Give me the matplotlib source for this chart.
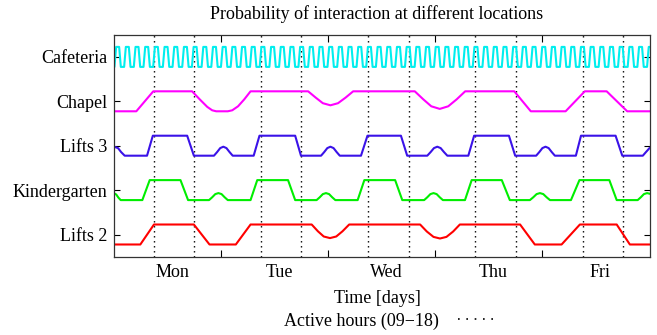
import numpy as np
import matplotlib.pyplot as plt
from matplotlib.lines import Line2D

plt.rcParams['font.family'] = ['Liberation Serif', 'DejaVu Serif']

# rows from bottom to top
locations = ['Lifts 2', 'Kindergarten', 'Lifts 3', 'Chapel', 'Cafeteria']
colors = ['#ff0000', '#00ee00', '#3a12e8', '#ff00ff', '#00eeee']
days = ['Mon', 'Tue', 'Wed', 'Thu', 'Fri']
active_hours = [9, 18]

# hours since Monday 00:00, probability scaled 0..1
lifts2_h = [0, 5.9, 8.96, 17.9, 21.4, 27.3, 30.6,
            44.3, 45.7, 47.0, 48.4, 49.8, 51.2, 52.7,
            68.6, 70.1, 71.6, 73.05, 74.5, 76.0, 77.5,
            91.0, 94.3, 100.3, 104.4, 112.65, 115.6, 120]
lifts2_p = [0, 0, 1, 1, 0, 0, 1,
            1, 0.66, 0.4, 0.32, 0.4, 0.66, 1,
            1, 0.65, 0.38, 0.3, 0.38, 0.65, 1,
            1, 0, 0, 1, 1, 0, 0]

kinder_h = [0, 0.5, 1.0, 1.5, 6.35, 8.0, 14.9, 16.6,
            21.3, 22.0, 22.7, 23.4, 24.1, 24.8, 25.5, 30.6, 32.1, 39.0, 40.6,
            45.4, 46.1, 46.8, 47.5, 48.2, 48.9, 49.6, 54.6, 56.1, 63.0, 64.6,
            69.5, 70.2, 70.9, 71.6, 72.3, 73.0, 73.7, 78.65, 80.15, 86.9, 88.7,
            93.2, 93.95, 94.7, 95.45, 96.2, 96.95, 97.7, 102.4, 104.3, 111.0, 112.65,
            117.35, 118.05, 118.75, 119.45, 120]
kinder_p = [0.34, 0.28, 0.12, 0, 0, 1, 1, 0,
            0, 0.14, 0.3, 0.35, 0.3, 0.14, 0, 0, 1, 1, 0,
            0, 0.14, 0.3, 0.35, 0.3, 0.14, 0, 0, 1, 1, 0,
            0, 0.14, 0.3, 0.35, 0.3, 0.14, 0, 0, 1, 1, 0,
            0, 0.14, 0.3, 0.35, 0.3, 0.14, 0, 0, 1, 1, 0,
            0, 0.14, 0.3, 0.35, 0.32]

lifts3_h = [0, 0.9, 1.6, 2.4, 7.4, 8.7, 16.4, 17.9,
            22.4, 23.1, 23.8, 24.5, 25.2, 25.9, 26.6, 31.3, 32.6, 40.6, 41.9,
            46.4, 47.1, 47.8, 48.5, 49.2, 49.9, 50.6, 55.35, 56.8, 64.3, 65.7,
            70.2, 70.95, 71.7, 72.45, 73.2, 73.95, 74.7, 79.4, 80.7, 88.5, 89.9,
            94.6, 95.3, 96.0, 96.7, 97.4, 98.1, 98.8, 103.5, 104.65, 112.4, 113.9,
            118.5, 119.2, 120]
lifts3_p = [0.45, 0.38, 0.18, 0, 0, 1, 1, 0,
            0, 0.18, 0.38, 0.45, 0.38, 0.18, 0, 0, 1, 1, 0,
            0, 0.18, 0.38, 0.45, 0.38, 0.18, 0, 0, 1, 1, 0,
            0, 0.18, 0.38, 0.45, 0.38, 0.18, 0, 0, 1, 1, 0,
            0, 0.18, 0.38, 0.45, 0.38, 0.18, 0, 0, 1, 1, 0,
            0, 0.18, 0.38]

chapel_h = [0, 5.0, 8.8, 17.5, 19.2, 20.9, 22.0, 22.9, 25.5, 26.5, 27.8, 29.2, 30.6,
            43.5, 45.2, 46.8, 48.5, 50.2, 51.9, 53.6,
            67.4, 69.3, 71.1, 73.0, 74.9, 76.8, 78.7,
            89.7, 93.4, 101.2, 105.5, 110.4, 115.0, 120]
chapel_p = [0, 0, 1, 1, 0.6, 0.22, 0.05, 0, 0, 0.05, 0.25, 0.6, 1,
            1, 0.685, 0.405, 0.3, 0.405, 0.685, 1,
            1, 0.6, 0.25, 0.12, 0.25, 0.6, 1,
            1, 0, 0, 1, 1, 0, 0]

# cafeteria: start hour of each rise
cafe_rise = [0.10, 2.27, 4.44, 6.61, 8.78, 10.95, 13.12, 15.29, 17.46, 19.63, 21.80,
             23.97, 26.14, 28.31, 30.48, 32.65, 34.82, 36.99, 39.16, 41.33, 43.50, 45.67,
             47.84, 50.01, 52.18, 54.35, 56.52, 58.69, 60.86, 63.03, 65.20, 67.37, 69.54,
             71.71, 73.88, 76.05, 78.22, 80.39, 82.56, 84.73, 86.90, 89.07, 91.24, 93.41,
             95.58, 97.75, 99.92, 102.09, 104.26, 106.43, 108.60, 110.77, 112.94, 115.11,
             117.28, 119.45]

cafe_h, cafe_p = [0], [0]
for t in cafe_rise:
    cafe_h += [t, t + 0.38, t + 1.05, t + 1.43]
    cafe_p += [0, 1, 1, 0]

series = [(lifts2_h, lifts2_p), (kinder_h, kinder_p), (lifts3_h, lifts3_p),
          (chapel_h, chapel_p), (cafe_h, cafe_p)]

fig = plt.figure(figsize=(6.57, 3.35), dpi=100)
ax = fig.add_axes([114 / 657, 78.3 / 335, 535.5 / 657, 222 / 335])

dot = (0, (1, 2.6))
for d in range(len(days)):
    for hr in active_hours:
        ax.axvline(24 * d + hr, color='black', ls=dot, lw=1.0, zorder=1)

for i, (h, p) in enumerate(series):
    y = i + 0.45 * (np.asarray(p) - 0.5)
    ax.plot(h, y, color=colors[i], lw=1.5, zorder=2)

ax.set_xlim(0, 120)
ax.set_ylim(-0.5, 4.5)
ax.set_yticks(range(len(locations)))
ax.set_yticklabels(locations, fontsize=13)
ax.tick_params(axis='y', direction='in', left=True, right=True, length=4.5, width=0.8, pad=5)

ax.set_xticks([24, 48, 72, 96])
ax.set_xticklabels([])
ax.tick_params(axis='x', which='major', direction='in', top=True, bottom=True, length=5, width=0.8)
ax.set_xticks([13 + 24 * d for d in range(len(days))], minor=True)
ax.set_xticklabels(days, minor=True, fontsize=13)
ax.tick_params(axis='x', which='minor', length=0, pad=5)

for s in ax.spines.values():
    s.set_linewidth(0.9)
    s.set_color('#333333')

fig.text(377 / 657, 1 - 19 / 335, 'Probability of interaction at different locations',
         ha='center', va='baseline', fontsize=13)
fig.text(377 / 657, 1 - 303 / 335, 'Time [days]', ha='center', va='baseline', fontsize=13)

handle = Line2D([], [], color='black', ls=(0, (1, 4)), lw=1.2)
fig.legend([handle], ['Active hours (09\u221218)'], loc='center',
           bbox_to_anchor=(389 / 657, 1 - 321 / 335), markerfirst=False, frameon=False,
           fontsize=13, handlelength=2.0, handletextpad=1.1, borderpad=0)

fig.savefig('out.png', dpi=100)
